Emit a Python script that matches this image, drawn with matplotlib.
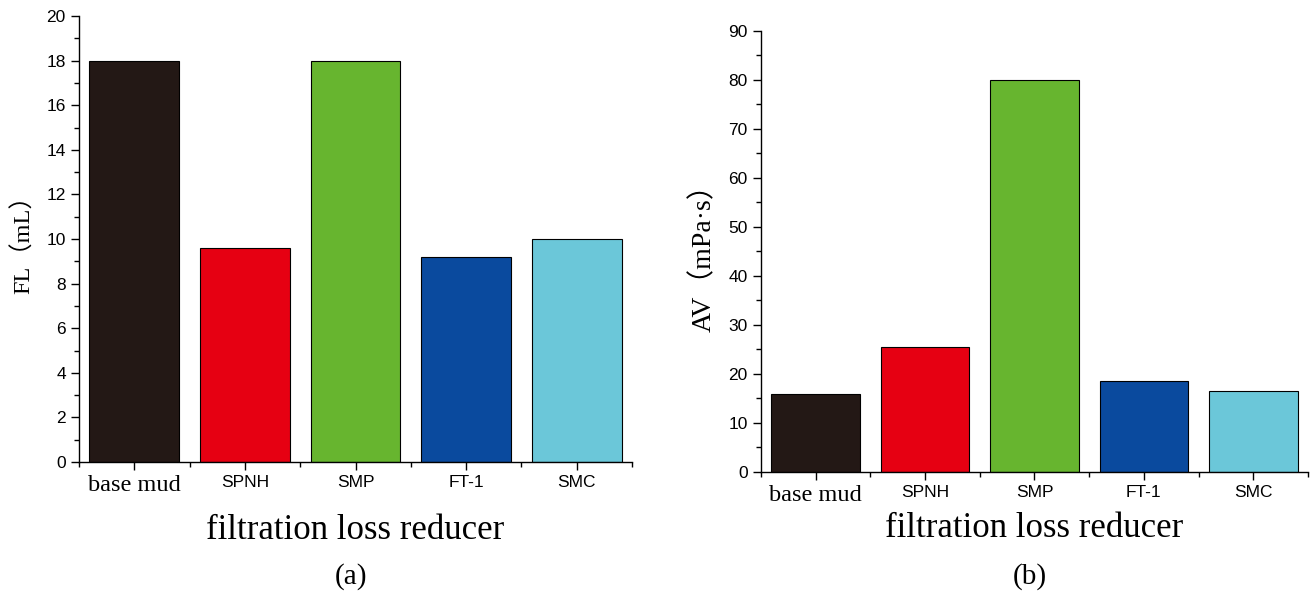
import numpy as np
import matplotlib
matplotlib.use("Agg")
import matplotlib.pyplot as plt
from matplotlib.ticker import MultipleLocator, FixedLocator

# data
categories = ["base mud", "SPNH", "SMP", "FT-1", "SMC"]
fl_values = [18.0, 9.6, 18.0, 9.2, 10.0]
av_values = [16.0, 25.5, 80.0, 18.5, 16.5]
bar_colors = ["#231815", "#E60012", "#67B52F", "#0A4A9E", "#6BC7D9"]

serif = ["Liberation Serif", "Noto Sans CJK SC"]
sans = "Liberation Sans"

fig = plt.figure(figsize=(13.14, 5.94), dpi=100)
ax1 = fig.add_axes([0.0601, 0.2222, 0.4209, 0.7508])
ax2 = fig.add_axes([0.5791, 0.2054, 0.4163, 0.7426])


def style_axes(ax, values, ymax, ymajor, ylabel, ylabel_size, xpad):
    x = np.arange(len(categories))
    ax.bar(x, values, width=0.81, color=bar_colors, edgecolor="black", linewidth=0.8)
    ax.set_xlim(-0.5, len(categories) - 0.5)
    ax.set_ylim(0, ymax)
    ax.spines["top"].set_visible(False)
    ax.spines["right"].set_visible(False)
    for s in ["left", "bottom"]:
        ax.spines[s].set_linewidth(1.0)
    ax.yaxis.set_major_locator(MultipleLocator(ymajor))
    ax.yaxis.set_minor_locator(MultipleLocator(ymajor / 2))
    ax.set_xticks(x)
    ax.xaxis.set_minor_locator(FixedLocator(np.arange(len(categories) + 1) - 0.5))
    ax.tick_params(axis="both", which="major", direction="out", length=6, width=1.0,
                   labelsize=12.5)
    ax.tick_params(axis="both", which="minor", direction="out", length=3.5, width=1.0)
    ax.set_xticklabels(categories)
    for i, lab in enumerate(ax.get_xticklabels()):
        if i == 0:
            lab.set_fontfamily("Liberation Serif")
            lab.set_fontsize(17.5)
        else:
            lab.set_fontfamily(sans)
            lab.set_fontsize(12.5)
    for lab in ax.get_yticklabels():
        lab.set_fontfamily(sans)
    ax.set_xlabel("filtration loss reducer", family=serif, fontsize=25, labelpad=xpad)
    ax.set_ylabel(ylabel, family=serif, fontsize=ylabel_size, labelpad=8)


style_axes(ax1, fl_values, 20, 2, "FL（mL）", 17.5, 13)
style_axes(ax2, av_values, 90, 10, "AV（mPa·s）", 20, 4)

fig.text(0.267, 0.017, "(a)", family=serif, fontsize=21, ha="center")
fig.text(0.784, 0.017, "(b)", family=serif, fontsize=21, ha="center")

fig.savefig("out.png", dpi=100)
